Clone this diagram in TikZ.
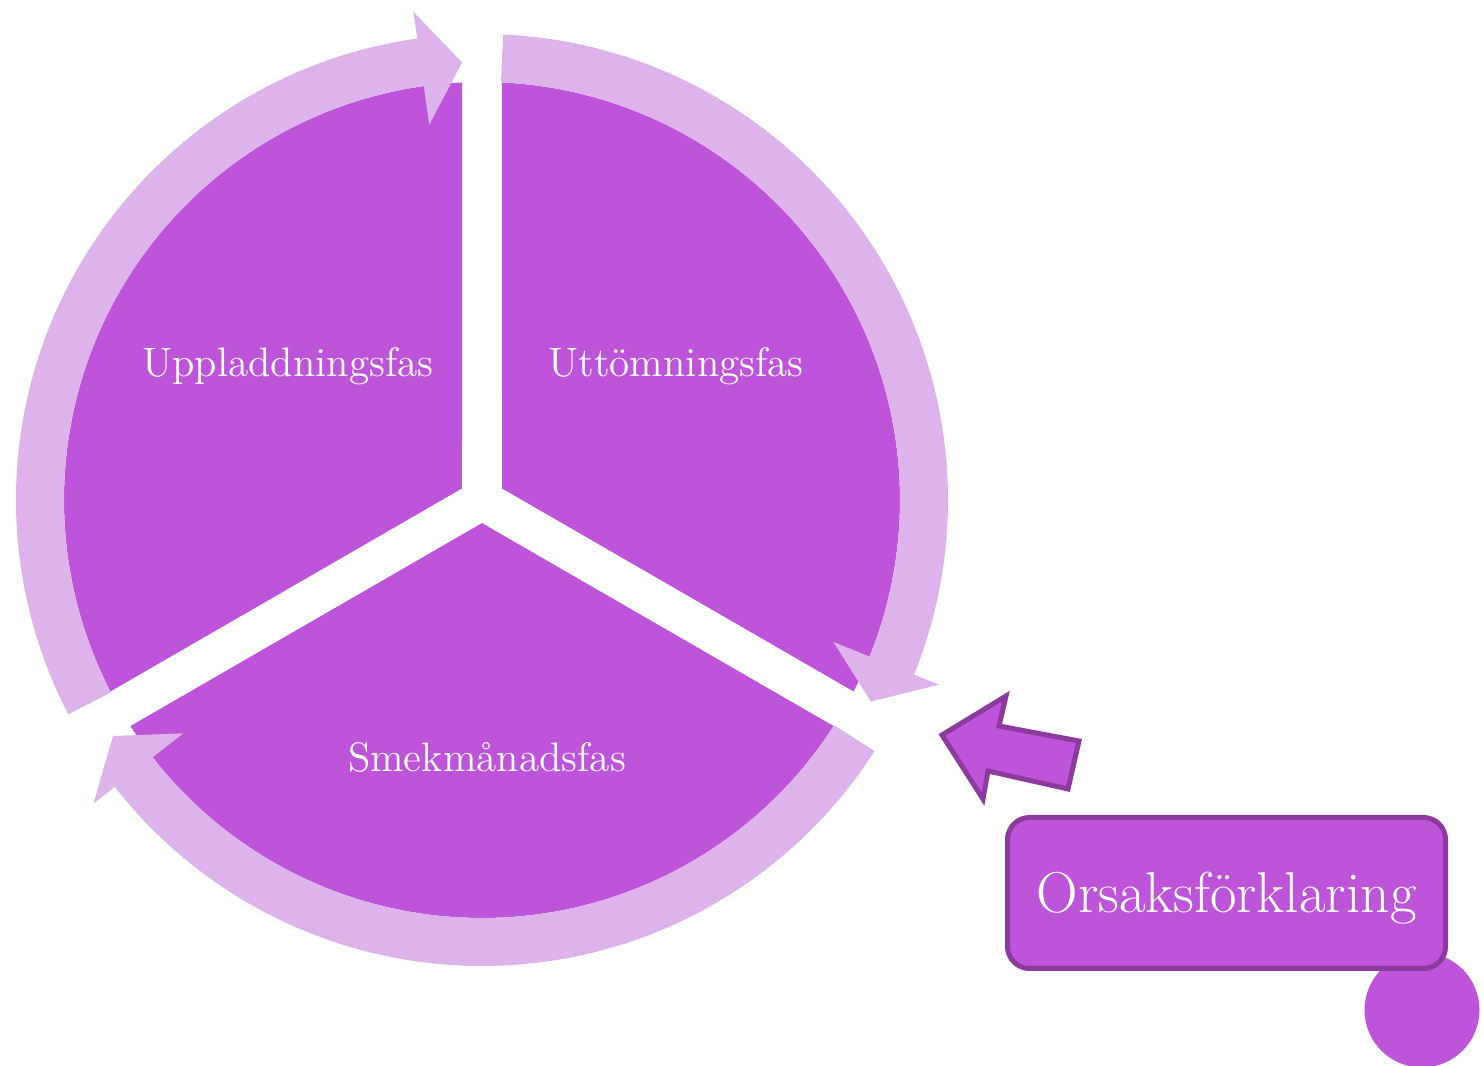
\documentclass[tikz,border=0pt]{standalone}
\usepackage{fix-cm}
\usepackage{tikz}
\usepackage{xcolor}
\definecolor{fas}{RGB}{189,84,218}
\definecolor{ring}{RGB}{220,179,234}
\definecolor{kant}{RGB}{140,58,160}

\begin{document}
\begin{tikzpicture}[
		sektor/.style={fill=fas},
		ringpil/.style={fill=ring},
		etikett/.style={text=white,font=\fontsize{11.7}{14}\selectfont},
		blockpil/.style={draw=kant,fill=fas,line width=0.05cm,line join=miter},
		orsaksruta/.style={draw=kant,fill=fas,line width=0.05cm,rounded corners=0.22cm,minimum width=4.38cm,minimum height=1.51cm,text height=0.5cm,text depth=0.1cm,text=white,font=\fontsize{16.4}{19}\selectfont}
	]
	\useasboundingbox (-4.82,-5.66) rectangle (10.02,5.00);
	\foreach \v in {0,120,240}
	{
		\fill[sektor,rotate=\v] (30:0.231) -- (87.26:4.18) arc (87.26:-27.26:4.18) -- cycle;
	}
	\foreach \v in {0,120,240}
	{
		\fill[ringpil,rotate=\v] (87.4:4.18) arc (87.4:-22:4.18) -- (-22:3.79) -- (-27.4:4.38) -- (-22:4.93) -- (-22:4.66) arc (-22:87.4:4.66) -- cycle;
	}
	\node[etikett] (laddning) at (-1.94,1.34) {Uppladdningsfas};
	\node[etikett] (tomning) at (1.94,1.34) {Uttömningsfas};
	\node[etikett] (smekmanad) at (0.05,-2.57) {Smekmånadsfas};
	\draw[blockpil] (4.60,-2.35) -- (5.24,-1.96) -- (5.17,-2.26) -- (5.97,-2.41) -- (5.86,-2.89) -- (5.06,-2.71) -- (5.01,-2.99) -- cycle;
	\node[circle,fill=fas,minimum size=1.15cm,inner sep=0pt] (punkt) at (9.40,-5.10) {};
	\node[orsaksruta] (orsak) at (7.445,-3.93) {Orsaksförklaring};
\end{tikzpicture}
\end{document}
